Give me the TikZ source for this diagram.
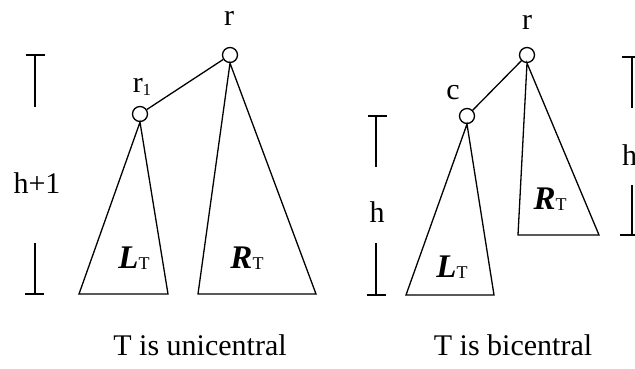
\documentclass[tikz,border=0pt]{standalone}
\usepackage{fontspec}
\setmainfont{Liberation Serif}
\begin{document}
\begin{tikzpicture}[x=1pt,y=-1pt,
  vtx/.style={circle,draw,line width=1.3pt,minimum size=15pt,inner sep=0pt,fill=white},
  lbl/.style={inner sep=0pt,font=\fontsize{30}{34}\selectfont},
  big/.style={inner sep=0pt,font=\fontsize{33}{36}\selectfont\bfseries\itshape},
  tri/.style={line width=1.3pt,line join=miter},
  brk/.style={line width=1.1pt}]
\useasboundingbox (0,0) rectangle (635,368);
% ---------- left: unicentral ----------
\node[vtx] (rA) at (230,55) {};
\node[vtx] (r1) at (140,114) {};
\draw[tri] (r1) -- (rA);
\coordinate (lA1) at (79,294); \coordinate (lA2) at (168,294);
\coordinate (rA1) at (198,294); \coordinate (rA2) at (316,294);
\draw[tri] (r1.south) -- (lA1) -- (lA2) -- cycle;
\draw[tri] (rA.south) -- (rA1) -- (rA2) -- cycle;
\node[lbl] (rAl) at (229,18) {r};
\node[lbl] (r1l) at (142,87) {r\raisebox{-3pt}{\fontsize{17}{18}\selectfont 1}};
\node[big] (LA) at (134,258) {L\raisebox{-1pt}{\fontsize{18}{18}\selectfont\mdseries\upshape T}};
\node[big] (RA) at (247,258) {R\raisebox{-1pt}{\fontsize{18}{18}\selectfont\mdseries\upshape T}};
\node[lbl] (hA) at (37,183) {h+1};
\coordinate (bA1) at (35,55); \coordinate (bA2) at (35,107);
\coordinate (bA3) at (35,243); \coordinate (bA4) at (35,294);
\draw[brk] (26,55) -- (45,55);
\draw[brk] (bA1) -- (bA2);
\draw[brk] (bA3) -- (bA4);
\draw[brk] (25,294) -- (44,294);
\node[lbl] (capA) at (200,345) {T is unicentral};
% ---------- right: bicentral ----------
\node[vtx] (rB) at (527,55) {};
\node[vtx] (cB) at (467,116) {};
\draw[tri] (cB) -- (rB);
\coordinate (lB1) at (406,295); \coordinate (lB2) at (494,295);
\coordinate (rB1) at (518,235); \coordinate (rB2) at (599,235);
\draw[tri] (cB.south) -- (lB1) -- (lB2) -- cycle;
\draw[tri] (rB.south) -- (rB1) -- (rB2) -- cycle;
\node[lbl] (rBl) at (527,22) {r};
\node[lbl] (cBl) at (453,93) {c};
\node[big] (LB) at (452,267) {L\raisebox{-1pt}{\fontsize{18}{18}\selectfont\mdseries\upshape T}};
\node[big] (RB) at (550,199) {R\raisebox{-1pt}{\fontsize{18}{18}\selectfont\mdseries\upshape T}};
\node[lbl] (hB) at (377,212) {h};
\draw[brk] (368,116) -- (387,116);
\draw[brk] (376,116) -- (376,167);
\draw[brk] (376,243) -- (376,295);
\draw[brk] (367,295) -- (386,295);
\node[lbl] (capB) at (513,345) {T is bicentral};
\node[lbl,anchor=west] (hC) at (622,155) {h};
\draw[brk] (622,57) -- (641,57);
\draw[brk] (632,57) -- (632,108);
\draw[brk] (632,185) -- (632,235);
\draw[brk] (620,235) -- (641,235);
\end{tikzpicture}
\end{document}
